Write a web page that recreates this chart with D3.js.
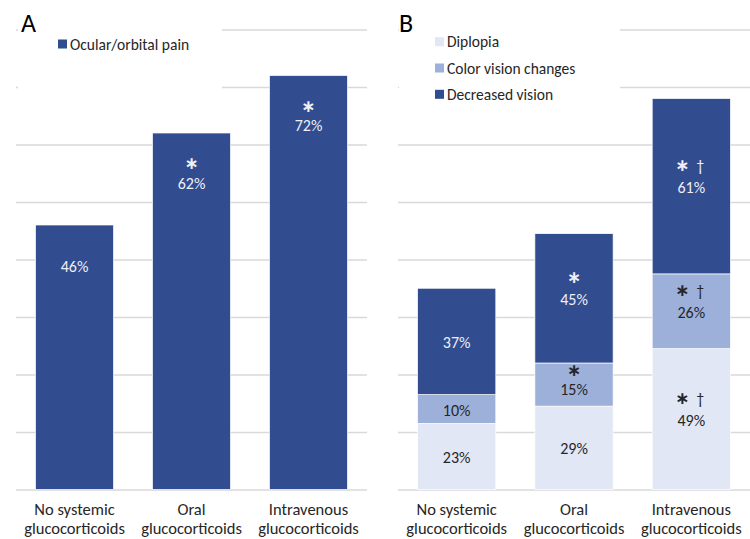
<!DOCTYPE html>
<html><head><meta charset="utf-8">
<script src="https://cdn.jsdelivr.net/npm/d3@7"></script>
<style>body{margin:0;background:#fff}svg{display:block}</style>
</head><body><svg id="c" width="750" height="539"></svg>
<script>
// ---------- data ----------
const categories = ["No systemic\nglucocorticoids", "Oral\nglucocorticoids", "Intravenous\nglucocorticoids"];
const painValues = [46, 62, 72];
const painMarks = ["", "*", "*"];
const seriesNames = ["Diplopia", "Color vision changes", "Decreased vision"];
const diplopia = [23, 29, 49];
const colorVision = [10, 15, 26];
const decreasedVision = [37, 45, 61];
const diplopiaMarks = ["", "", "*†"];
const colorVisionMarks = ["", "*", "*†"];
const decreasedVisionMarks = ["", "*", "*†"];
const ticksA = [0, 10, 20, 30, 40, 50, 60, 70, 80];
const ticksB = [0, 20, 40, 60, 80, 100, 120, 140, 160];

// ---------- style ----------
const FONT = "Carlito, Calibri, Lato, sans-serif";
const C_DARK = "#314c8f", C_MID = "#9cb0da", C_LIGHT = "#e2e7f5";
const GRID = "#d9d9d9";
const seriesColors = [C_LIGHT, C_MID, C_DARK];
const seriesText = ["#262626", "#262626", "#eef0f6"];
const PCT = 16, LEG = 15.5, CAT = 16.5;

const svg = d3.select("#c");
const yTop = 29.5, yBase = 489.5;

function catAxis(g, x) {
  categories.forEach((c, i) => {
    c.split("\n").forEach((l, k) => g.append("text").attr("text-anchor", "middle")
      .attr("font-family", FONT).attr("font-size", CAT).attr("fill", "#262626")
      .attr("x", x(categories[i]) + x.bandwidth() / 2)
      .attr("y", 508.5 + k * 19.8).attr("dominant-baseline", "central").text(l));
  });
}

function marks(g, cx, cy, str, color) {
  const hasDag = str.includes("†");
  const astX = hasDag ? cx - 9 : cx;
  g.append("text").attr("x", astX).attr("y", cy).attr("text-anchor", "middle")
    .attr("dominant-baseline", "central")
    .attr("font-family", "DejaVu Sans").attr("font-weight", "bold").attr("font-size", 17)
    .attr("fill", color).text("∗");
  if (hasDag) {
    g.append("text").attr("x", cx + 9).attr("y", cy).attr("text-anchor", "middle")
      .attr("dominant-baseline", "central")
      .attr("font-family", FONT).attr("font-size", 16)
      .attr("fill", color).text("†");
  }
}

// ---------- Panel A ----------
{
  const g = svg.append("g");
  const x = d3.scaleBand().domain(categories).range([16, 367]).paddingInner(0.333).paddingOuter(0.1667);
  const y = d3.scaleLinear().domain([0, 80]).range([yBase, yTop]);
  g.append("g").call(d3.axisLeft(y).tickValues(ticksA).tickSize(-(367 - 16)).tickFormat(""))
    .attr("transform", "translate(16,0)")
    .call(a => a.select(".domain").remove())
    .call(a => a.selectAll("line").attr("stroke", GRID).attr("stroke-width", 1.5));
  g.append("rect").attr("x", 18).attr("y", 18).attr("width", 204).attr("height", 78).attr("fill", "#fff");
  g.selectAll("rect.bar").data(painValues).join("rect").attr("class", "bar")
    .attr("x", (d, i) => x(categories[i])).attr("width", x.bandwidth())
    .attr("y", d => y(d)).attr("height", d => y(0) - y(d))
    .attr("fill", C_DARK).attr("stroke", "#fff").attr("stroke-width", 0.7);
  painValues.forEach((d, i) => {
    const cx = x(categories[i]) + x.bandwidth() / 2;
    const top = y(d);
    if (painMarks[i]) marks(g, cx, top + 30, painMarks[i], "#eef0f6");
    g.append("text").attr("x", cx).attr("y", top + (painMarks[i] ? 50 : 41)).attr("dominant-baseline", "central")
      .attr("text-anchor", "middle").attr("font-family", FONT).attr("font-size", PCT)
      .attr("fill", "#eef0f6").text(d + "%");
  });
  catAxis(g, x);
  g.append("rect").attr("x", 58).attr("y", 39.5).attr("width", 9).attr("height", 9).attr("fill", C_DARK);
  g.append("text").attr("x", 70).attr("y", 44).attr("dominant-baseline", "central")
    .attr("font-family", FONT).attr("font-size", LEG).attr("fill", "#262626").text("Ocular/orbital pain");
  g.append("text").attr("x", 21).attr("y", 32).attr("font-family", FONT).attr("font-size", 26)
    .attr("fill", "#000").text("A");
}

// ---------- Panel B ----------
{
  const g = svg.append("g");
  const x = d3.scaleBand().domain(categories).range([398, 750]).paddingInner(0.333).paddingOuter(0.1667);
  const y = d3.scaleLinear().domain([0, 160]).range([yBase, yTop]);
  g.append("g").call(d3.axisLeft(y).tickValues(ticksB).tickSize(-(750 - 398)).tickFormat(""))
    .attr("transform", "translate(398,0)")
    .call(a => a.select(".domain").remove())
    .call(a => a.selectAll("line").attr("stroke", GRID).attr("stroke-width", 1.5));
  g.append("rect").attr("x", 399).attr("y", 18).attr("width", 221).attr("height", 84).attr("fill", "#fff");

  const rows = categories.map((c, i) => ({ cat: c, Diplopia: diplopia[i], "Color vision changes": colorVision[i], "Decreased vision": decreasedVision[i] }));
  const markArr = [diplopiaMarks, colorVisionMarks, decreasedVisionMarks];
  const stack = d3.stack().keys(seriesNames)(rows);
  stack.forEach((s, si) => {
    g.selectAll("rect.s" + si).data(s).join("rect").attr("class", "s" + si)
      .attr("x", d => x(d.data.cat)).attr("width", x.bandwidth())
      .attr("y", d => y(d[1])).attr("height", d => y(d[0]) - y(d[1]))
      .attr("fill", seriesColors[si]).attr("stroke", "#fff").attr("stroke-width", 0.7);
    s.forEach((d, i) => {
      const cx = x(d.data.cat) + x.bandwidth() / 2;
      const mid = (y(d[0]) + y(d[1])) / 2;
      const h = y(d[0]) - y(d[1]);
      const m = markArr[si][i];
      const tight = m && h < 50;
      g.append("text").attr("x", cx).attr("y", mid + (tight ? 4.5 : 1)).attr("dominant-baseline", "central")
        .attr("text-anchor", "middle").attr("font-family", FONT).attr("font-size", PCT)
        .attr("fill", seriesText[si]).text(d.data[seriesNames[si]] + "%");
      if (m) marks(g, cx, mid - (tight ? 15 : 21), m, seriesText[si]);
    });
  });
  catAxis(g, x);
  seriesNames.forEach((n, i) => {
    const cy = 41.7 + i * 26.3;
    g.append("rect").attr("x", 435).attr("y", cy - 4.5).attr("width", 9).attr("height", 9).attr("fill", seriesColors[i]);
    g.append("text").attr("x", 447).attr("y", cy).attr("dominant-baseline", "central")
      .attr("font-family", FONT).attr("font-size", LEG).attr("fill", "#262626").text(n);
  });
  g.append("text").attr("x", 399).attr("y", 32).attr("font-family", FONT).attr("font-size", 26)
    .attr("fill", "#000").text("B");
}
</script></body></html>
